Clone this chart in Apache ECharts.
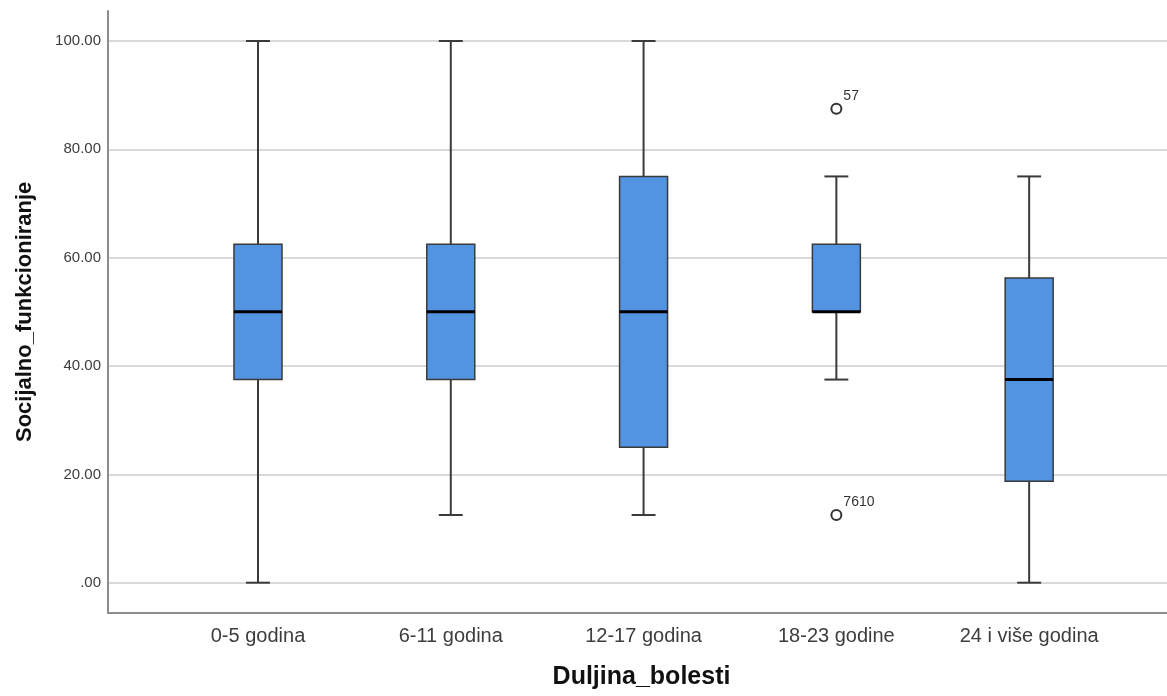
<!DOCTYPE html>
<html>
<head>
<meta charset="utf-8">
<script src="https://cdn.jsdelivr.net/npm/echarts@6/dist/echarts.min.js"></script>
<style>
html,body{margin:0;padding:0;background:#fff;}
#main{width:1167px;height:696px;}
</style>
</head>
<body>
<div id="main"></div>
<script>
const categories = ['0-5 godina', '6-11 godina', '12-17 godina', '18-23 godine', '24 i više godina'];
const whiskerLow = [0, 12.5, 12.5, 37.5, 0];
const q1Values = [37.5, 37.5, 25, 50, 18.75];
const medians = [50, 50, 50, 50, 37.5];
const q3Values = [62.5, 62.5, 75, 62.5, 56.25];
const whiskerHigh = [100, 100, 100, 75, 75];
const outlierCategory = [3, 3];
const outlierValues = [87.5, 12.5];
const outlierLabels = ['57', '7610'];
const yTicks = [0, 20, 40, 60, 80, 100];
const xTitle = 'Duljina_bolesti';
const yTitle = 'Socijalno_funkcioniranje';

const X_MIN = -0.778, X_MAX = 4.715;
const BOX_HALF = 0.1245, CAP_HALF = 0.062;

const boxData = categories.map((c, i) => [i, whiskerLow[i], q1Values[i], medians[i], q3Values[i], whiskerHigh[i]]);
const outlierData = outlierValues.map((v, i) => ({ value: [outlierCategory[i], v], name: outlierLabels[i] }));

const chart = echarts.init(document.getElementById('main'), null, { renderer: 'canvas' });

const option = {
  backgroundColor: '#ffffff',
  animation: false,
  grid: [
    { left: 108, right: 0, top: 11, bottom: 83.3 },
    { left: 108, right: 0, top: 41, bottom: 113.3 }
  ],
  xAxis: [
    {
      type: 'value', gridIndex: 0, min: X_MIN, max: X_MAX,
      axisLine: { show: true, onZero: false, lineStyle: { color: '#8c8c8c', width: 2 } },
      axisTick: { show: false },
      splitLine: { show: false },
      axisLabel: {
        show: true, customValues: [0, 1, 2, 3, 4], margin: 14,
        formatter: v => categories[Math.round(v)],
        color: '#3d3d3d', fontFamily: 'Liberation Sans, Arial, sans-serif', fontSize: 20
      },
      name: xTitle, nameLocation: 'middle', nameGap: 52,
      nameTextStyle: { color: '#111', fontWeight: 'bold', fontSize: 25, padding: [0, 0, 0, 8], fontFamily: 'Liberation Sans, Arial, sans-serif' }
    },
    {
      type: 'value', gridIndex: 1, min: X_MIN, max: X_MAX, show: false
    }
  ],
  yAxis: [
    {
      type: 'value', gridIndex: 0, min: 0, max: 1,
      axisLine: { show: true, onZero: false, lineStyle: { color: '#8c8c8c', width: 2 } },
      axisTick: { show: false }, axisLabel: { show: false }, splitLine: { show: false },
      name: yTitle, nameLocation: 'middle', nameGap: 72,
      nameTextStyle: { color: '#111', fontWeight: 'bold', fontSize: 22, fontFamily: 'Liberation Sans, Arial, sans-serif' }
    },
    {
      type: 'value', gridIndex: 1, min: yTicks[0], max: yTicks[yTicks.length - 1], interval: 20,
      axisLine: { show: false }, axisTick: { show: false },
      splitLine: { show: true, lineStyle: { color: '#d9d9d9', width: 2 } },
      axisLabel: {
        margin: 7, color: '#3d3d3d', fontSize: 15, fontFamily: 'Liberation Sans, Arial, sans-serif',
        formatter: v => v === 0 ? '.00' : v.toFixed(2)
      }
    }
  ],
  series: [
    {
      type: 'custom',
      xAxisIndex: 1, yAxisIndex: 1,
      clip: false,
      data: boxData,
      renderItem: function (params, api) {
        const x = api.value(0);
        const lo = api.value(1), q1 = api.value(2), med = api.value(3), q3 = api.value(4), hi = api.value(5);
        const pHi = api.coord([x, hi]), pQ3 = api.coord([x, q3]), pQ1 = api.coord([x, q1]), pLo = api.coord([x, lo]);
        const capL = api.coord([x - CAP_HALF, hi])[0], capR = api.coord([x + CAP_HALF, hi])[0];
        const boxL = api.coord([x - BOX_HALF, q3])[0], boxR = api.coord([x + BOX_HALF, q3])[0];
        const pMed = api.coord([x, med]);
        const wStyle = { stroke: '#3a3a3a', lineWidth: 2 };
        return {
          type: 'group',
          children: [
            { type: 'line', shape: { x1: pHi[0], y1: pHi[1], x2: pQ3[0], y2: pQ3[1] }, style: wStyle },
            { type: 'line', shape: { x1: pQ1[0], y1: pQ1[1], x2: pLo[0], y2: pLo[1] }, style: wStyle },
            { type: 'line', shape: { x1: capL, y1: pHi[1], x2: capR, y2: pHi[1] }, style: wStyle },
            { type: 'line', shape: { x1: capL, y1: pLo[1], x2: capR, y2: pLo[1] }, style: wStyle },
            { type: 'rect', shape: { x: boxL, y: pQ3[1], width: boxR - boxL, height: pQ1[1] - pQ3[1] },
              style: { fill: '#5293e2', stroke: '#3a3a3a', lineWidth: 1.5 } },
            { type: 'line', shape: { x1: boxL, y1: pMed[1], x2: boxR, y2: pMed[1] },
              style: { stroke: '#000', lineWidth: 3 } }
          ]
        };
      }
    },
    {
      type: 'scatter',
      xAxisIndex: 1, yAxisIndex: 1,
      clip: false,
      symbol: 'circle', symbolSize: 10,
      itemStyle: { color: '#fff', borderColor: '#333', borderWidth: 2, opacity: 1 },
      label: {
        show: true, position: 'right', distance: 1, offset: [0, -13],
        formatter: p => p.name, color: '#333', fontSize: 14,
        fontFamily: 'Liberation Sans, Arial, sans-serif'
      },
      data: outlierData
    }
  ]
};
chart.setOption(option);
</script>
</body>
</html>
